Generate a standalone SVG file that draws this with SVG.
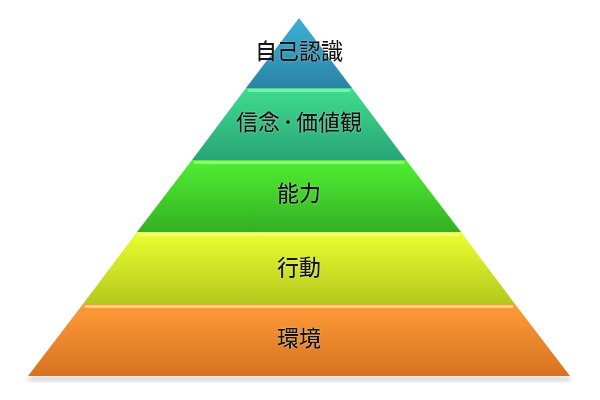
<svg xmlns="http://www.w3.org/2000/svg" width="600" height="400" viewBox="0 0 600 400">
  <defs>
    <linearGradient id="g1" x1="0" y1="0" x2="0" y2="1">
      <stop offset="0" stop-color="#3cb0d6"/>
      <stop offset="1" stop-color="#2a84a6"/>
    </linearGradient>
    <linearGradient id="g2" x1="0" y1="0" x2="0" y2="1">
      <stop offset="0" stop-color="#3fdc8c"/>
      <stop offset="1" stop-color="#27a478"/>
    </linearGradient>
    <linearGradient id="g3" x1="0" y1="0" x2="0" y2="1">
      <stop offset="0" stop-color="#50ee34"/>
      <stop offset="1" stop-color="#34b022"/>
    </linearGradient>
    <linearGradient id="g4" x1="0" y1="0" x2="0" y2="1">
      <stop offset="0" stop-color="#eaff30"/>
      <stop offset="1" stop-color="#b4c81e"/>
    </linearGradient>
    <linearGradient id="g5" x1="0" y1="0" x2="0" y2="1">
      <stop offset="0" stop-color="#ff9c38"/>
      <stop offset="1" stop-color="#d77220"/>
    </linearGradient>
    <filter id="sh" x="-10%" y="-50%" width="120%" height="200%">
      <feGaussianBlur stdDeviation="2"/>
    </filter>
    <filter id="glow" x="-20%" y="-40%" width="140%" height="180%">
      <feGaussianBlur in="SourceAlpha" stdDeviation="1.2" result="b"/>
      <feFlood flood-color="#ffffff" flood-opacity="0.35"/>
      <feComposite in2="b" operator="in" result="g"/>
      <feMerge><feMergeNode in="g"/><feMergeNode in="SourceGraphic"/></feMerge>
    </filter>
  </defs>
  <style>
    .lbl { font-family: "Noto Sans CJK JP", "Noto Sans", sans-serif; font-size: 22px; font-weight: 500; fill: #151515; text-anchor: middle; }
    .dot { font-size: 16px; font-weight: 700; }
    .hl { stroke-width: 3; stroke-linecap: round; opacity: 0.85; }
  </style>
  <rect width="600" height="400" fill="#ffffff"/>
  <polygon points="30,377 568,377 572,381 26,381" fill="#9a9a9a" opacity="0.45" filter="url(#sh)"/>
  <g id="layer-1">
    <polygon points="299,18 246,88 352,88" fill="url(#g1)"/>
    <text class="lbl" x="299" y="59" filter="url(#glow)">自己認識</text>
  </g>
  <g id="layer-2">
    <polygon points="246,88 352,88 406,160 192,160" fill="url(#g2)"/>
    <line class="hl" x1="249" y1="90.5" x2="349" y2="90.5" stroke="#7ff5b5"/>
    <text class="lbl" x="299" y="130" filter="url(#glow)">信念<tspan class="dot" dy="-2">・</tspan><tspan dy="2">価値観</tspan></text>
  </g>
  <g id="layer-3">
    <polygon points="192,160 406,160 461,232 137,232" fill="url(#g3)"/>
    <line class="hl" x1="195" y1="162.5" x2="403" y2="162.5" stroke="#9cff7a"/>
    <text class="lbl" x="299" y="201" filter="url(#glow)">能力</text>
  </g>
  <g id="layer-4">
    <polygon points="137,232 461,232 515,304 83,304" fill="url(#g4)"/>
    <line class="hl" x1="140" y1="234.5" x2="458" y2="234.5" stroke="#fbff90"/>
    <text class="lbl" x="299" y="275" filter="url(#glow)">行動</text>
  </g>
  <g id="layer-5">
    <polygon points="83,304 515,304 570,376 28,376" fill="url(#g5)"/>
    <line class="hl" x1="86" y1="306.5" x2="512" y2="306.5" stroke="#ffe08a"/>
    <text class="lbl" x="299" y="346" filter="url(#glow)">環境</text>
  </g>
  <g id="connectors"/>
</svg>
